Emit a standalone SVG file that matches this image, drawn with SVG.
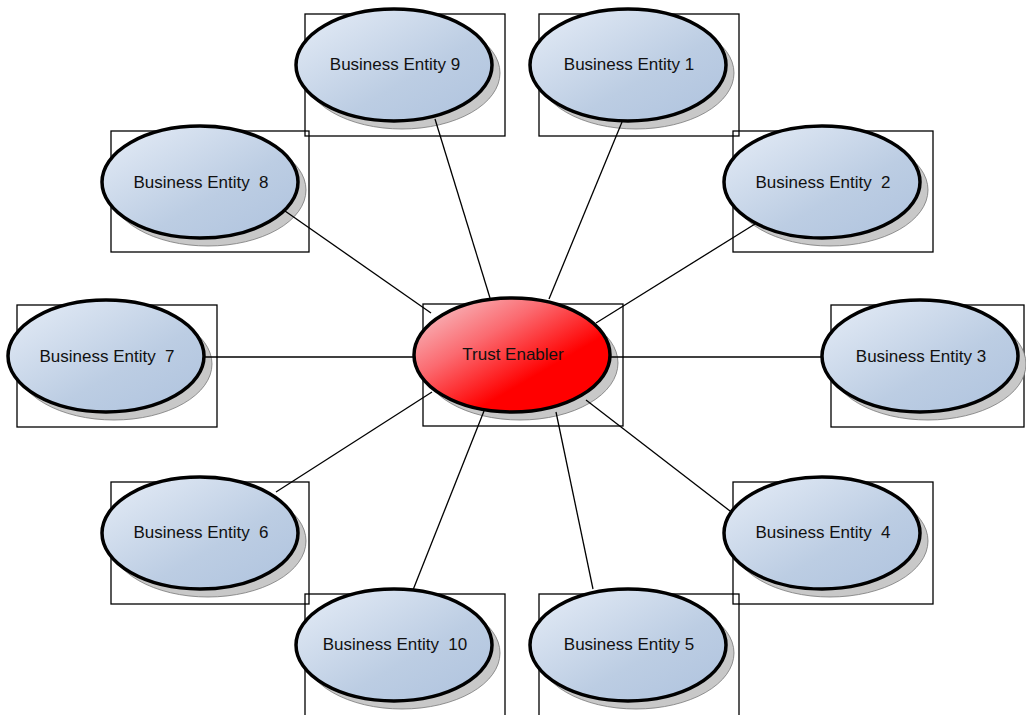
<svg xmlns="http://www.w3.org/2000/svg" width="1026" height="715" viewBox="0 0 1026 715">
<defs>
<linearGradient id="gBlue" x1="0" y1="0" x2="1" y2="1">
<stop offset="0" stop-color="#e6edf7"/>
<stop offset="0.6" stop-color="#bccde3"/>
<stop offset="1" stop-color="#afc3de"/>
</linearGradient>
<linearGradient id="gRed" x1="0" y1="0" x2="1" y2="1">
<stop offset="0" stop-color="#f6d2d6"/>
<stop offset="0.35" stop-color="#fb6a70"/>
<stop offset="0.65" stop-color="#ff0000"/>
<stop offset="1" stop-color="#ff0000"/>
</linearGradient>
<style>
.box{fill:none;stroke:#000;stroke-width:1.3}
.sh{fill:#c8c8c8;stroke:#777;stroke-width:0.8}
.ent{fill:url(#gBlue);stroke:#000;stroke-width:3.5}
.hub{fill:url(#gRed);stroke:#000;stroke-width:3.5}
.lbl{font-family:"Liberation Sans",Arial,sans-serif;font-size:17px;fill:#111;text-anchor:middle;white-space:pre}
.con line{stroke:#000;stroke-width:1.3}
</style>
</defs>
<rect width="1026" height="715" fill="#fff"/>

<g id="entity9">
<rect class="box" x="305" y="14" width="200" height="122"/>
<ellipse class="sh" cx="402" cy="73" rx="98" ry="56"/>
<ellipse class="ent" cx="394" cy="65" rx="98" ry="56"/>
<text class="lbl" x="395" y="70">Business Entity 9</text>
</g>
<g id="entity1">
<rect class="box" x="539" y="14" width="200" height="122"/>
<ellipse class="sh" cx="636" cy="73" rx="98" ry="56"/>
<ellipse class="ent" cx="628" cy="65" rx="98" ry="56"/>
<text class="lbl" x="629" y="70">Business Entity 1</text>
</g>
<g id="entity8">
<rect class="box" x="111" y="131" width="198" height="121"/>
<ellipse class="sh" cx="208" cy="190" rx="98" ry="56"/>
<ellipse class="ent" cx="200" cy="182" rx="98" ry="56"/>
<text class="lbl" x="201" y="188">Business Entity  8</text>
</g>
<g id="entity2">
<rect class="box" x="733" y="131" width="200" height="121"/>
<ellipse class="sh" cx="830" cy="190" rx="98" ry="56"/>
<ellipse class="ent" cx="822" cy="182" rx="98" ry="56"/>
<text class="lbl" x="823" y="188">Business Entity  2</text>
</g>
<g id="entity7">
<rect class="box" x="17" y="305" width="200" height="122"/>
<ellipse class="sh" cx="114" cy="364" rx="98" ry="56"/>
<ellipse class="ent" cx="106" cy="356" rx="98" ry="56"/>
<text class="lbl" x="107" y="362">Business Entity  7</text>
</g>
<g id="trustEnabler">
<rect class="box" x="423" y="304" width="200" height="122"/>
<ellipse class="sh" cx="520" cy="363" rx="98" ry="57"/>
<ellipse class="hub" cx="512" cy="355" rx="98" ry="57"/>
<text class="lbl" x="513" y="360">Trust Enabler</text>
</g>
<g id="entity3">
<rect class="box" x="831" y="305" width="193" height="122"/>
<ellipse class="sh" cx="928" cy="364" rx="98" ry="56"/>
<ellipse class="ent" cx="920" cy="356" rx="98" ry="56"/>
<text class="lbl" x="921" y="362">Business Entity 3</text>
</g>
<g id="entity6">
<rect class="box" x="111" y="482" width="198" height="122"/>
<ellipse class="sh" cx="208" cy="541" rx="98" ry="56"/>
<ellipse class="ent" cx="200" cy="533" rx="98" ry="56"/>
<text class="lbl" x="201" y="538">Business Entity  6</text>
</g>
<g id="entity4">
<rect class="box" x="733" y="482" width="200" height="122"/>
<ellipse class="sh" cx="830" cy="541" rx="98" ry="56"/>
<ellipse class="ent" cx="822" cy="533" rx="98" ry="56"/>
<text class="lbl" x="823" y="538">Business Entity  4</text>
</g>
<g id="entity10">
<rect class="box" x="305" y="594" width="200" height="130"/>
<ellipse class="sh" cx="402" cy="653" rx="98" ry="56"/>
<ellipse class="ent" cx="394" cy="645" rx="98" ry="56"/>
<text class="lbl" x="395" y="650">Business Entity  10</text>
</g>
<g id="entity5">
<rect class="box" x="539" y="594" width="200" height="130"/>
<ellipse class="sh" cx="636" cy="653" rx="98" ry="56"/>
<ellipse class="ent" cx="628" cy="645" rx="98" ry="56"/>
<text class="lbl" x="629" y="650">Business Entity 5</text>
</g>

<g id="connectors" class="con">
<line x1="490" y1="298" x2="435" y2="119"/>
<line x1="549" y1="299" x2="622" y2="122"/>
<line x1="431" y1="313" x2="285" y2="211"/>
<line x1="596" y1="323" x2="755" y2="224"/>
<line x1="414" y1="357" x2="204" y2="357"/>
<line x1="610" y1="357" x2="822" y2="357"/>
<line x1="432" y1="392" x2="276" y2="492"/>
<line x1="586" y1="400" x2="730" y2="511"/>
<line x1="484" y1="411" x2="413" y2="590"/>
<line x1="556" y1="412" x2="593" y2="589"/>
</g>
</svg>
